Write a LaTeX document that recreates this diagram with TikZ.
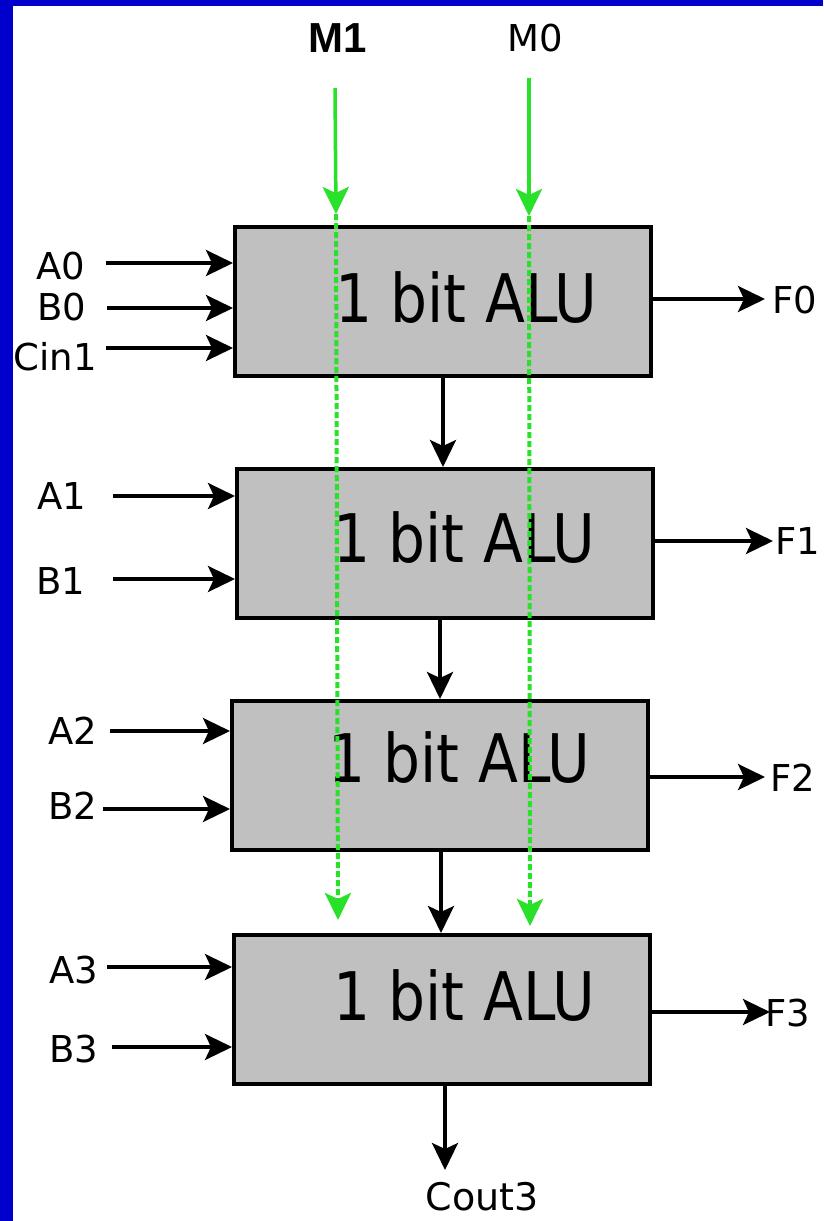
\documentclass[tikz,border=0pt]{standalone}
\usepackage{fontspec}
\setmainfont{DejaVu Sans}
\newfontfamily\alufont[FakeStretch=0.87]{DejaVu Sans}
\newfontfamily\mfont{Liberation Sans}
\usetikzlibrary{arrows.meta}
\definecolor{boxgray}{RGB}{192,192,192}
\definecolor{siggreen}{RGB}{40,225,40}
\definecolor{frameblue}{RGB}{0,0,204}
\tikzset{
  alubox/.style={draw=black, fill=boxgray, line width=3.5pt, minimum width=416pt, minimum height=149pt, inner sep=0pt, anchor=north west},
  alutext/.style={font=\alufont\fontsize{67}{70}\selectfont, inner sep=0pt, anchor=base west},
  lab/.style={font=\fontsize{37}{40}\selectfont, inner sep=0pt},
  arr/.style={line width=3.5pt, -{Stealth[length=27pt,width=26pt,inset=6pt]}},
  garr/.style={line width=3.5pt, draw=siggreen, -{Stealth[length=27pt,width=26pt,inset=6pt,fill=siggreen]}},
  gdash/.style={garr, line width=4pt, dash pattern=on 6pt off 3pt},
}
\begin{document}
\begin{tikzpicture}[x=1pt,y=-1pt]
\useasboundingbox (0,0) rectangle (823,1221);
\fill[white] (0,0) rectangle (823,1221);
\fill[frameblue] (0,0) rectangle (13,1221);
\fill[frameblue] (0,0) rectangle (823,6);

% boxes
\node[alubox] (b0) at (233,225) {};
\node[alubox] (b1) at (235,467) {};
\node[alubox] (b2) at (230,699) {};
\node[alubox] (b3) at (232,933) {};

\node[alutext] (t0) at (335,322) {1 bit ALU};
\node[alutext] (t1) at (333,562) {1 bit ALU};
\node[alutext] (t2) at (328,782) {1 bit ALU};
\node[alutext] (t3) at (333,1020) {1 bit ALU};

% control inputs
\node[font=\mfont\bfseries\fontsize{42}{44}\selectfont, inner sep=0pt] (m1) at (338,38) {M1};
\node[font=\fontsize{37}{40}\selectfont, inner sep=0pt] (m0) at (535,38) {M0};
\coordinate (m1top) at (335,88);
\coordinate (m1mid) at (336,214);
\coordinate (m1bot) at (338,920);
\coordinate (m0top) at (529,78);
\coordinate (m0mid) at (529,216);
\coordinate (m0bot) at (530,926);
\draw[garr] (m1top) -- (m1mid);
\draw[gdash] (m1mid) -- (m1bot);
\draw[garr] (m0top) -- (m0mid);
\draw[gdash] (m0mid) -- (m0bot);

% left labels
\node[lab] (la0) at (61,266) {A0};
\node[lab] (lb0) at (62,307) {B0};
\node[lab] (lc1) at (55,357) {Cin1};
\node[lab] (la1) at (62,496) {A1};
\node[lab] (lb1) at (61,581) {B1};
\node[lab] (la2) at (73,731) {A2};
\node[lab] (lb2) at (73,806) {B2};
\node[lab] (la3) at (74,970) {A3};
\node[lab] (lb3) at (74,1049) {B3};

\coordinate (ia0) at (106,263);
\coordinate (ib0) at (107,308);
\coordinate (ic1) at (106,348);
\coordinate (ia1) at (113,496);
\coordinate (ib1) at (113,579);
\coordinate (ia2) at (110,731);
\coordinate (ib2) at (103,809);
\coordinate (ia3) at (107,967);
\coordinate (ib3) at (112,1047);
\draw[arr] (ia0) -- (ia0 -| b0.west);
\draw[arr] (ib0) -- (ib0 -| b0.west);
\draw[arr] (ic1) -- (ic1 -| b0.west);
\draw[arr] (ia1) -- (ia1 -| b1.west);
\draw[arr] (ib1) -- (ib1 -| b1.west);
\draw[arr] (ia2) -- (ia2 -| b2.west);
\draw[arr] (ib2) -- (ib2 -| b2.west);
\draw[arr] (ia3) -- (ia3 -| b3.west);
\draw[arr] (ib3) -- (ib3 -| b3.west);

% outputs
\coordinate (of0) at (765,299);
\coordinate (of1) at (773,541);
\coordinate (of2) at (765,777);
\coordinate (of3) at (770,1012);
\draw[arr] (of0 -| b0.east) -- (of0);
\draw[arr] (of1 -| b1.east) -- (of1);
\draw[arr] (of2 -| b2.east) -- (of2);
\draw[arr] (of3 -| b3.east) -- (of3);
\node[lab] (lf0) at (795,300) {F0};
\node[lab] (lf1) at (798,541) {F1};
\node[lab] (lf2) at (793,778) {F2};
\node[lab] (lf3) at (788,1013) {F3};

% carry chain
\coordinate (c0) at (443,467);
\coordinate (c1) at (440,699);
\coordinate (c2) at (441,933);
\draw[arr] (c0 |- b0.south) -- (c0 |- b1.north);
\draw[arr] (c1 |- b1.south) -- (c1 |- b2.north);
\draw[arr] (c2 |- b2.south) -- (c2 |- b3.north);
\coordinate (c3) at (445,1170);
\draw[arr] (c3 |- b3.south) -- (c3);
\node[lab, font=\fontsize{38}{40}\selectfont] (lcout) at (482,1197) {Cout3};
\end{tikzpicture}
\end{document}
